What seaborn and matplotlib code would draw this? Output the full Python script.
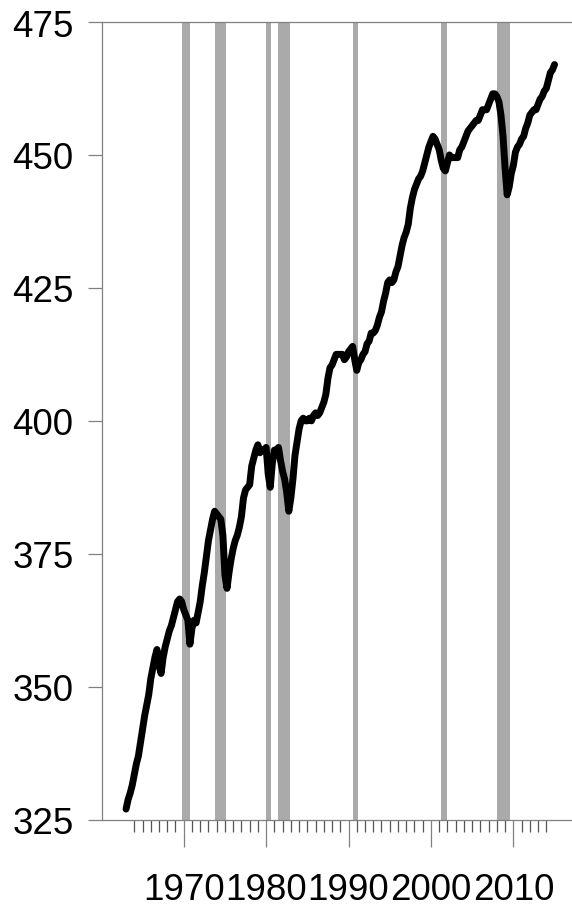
import numpy as np
import pandas as pd
import matplotlib
matplotlib.use("Agg")
import matplotlib.pyplot as plt
import seaborn as sns

# Quarterly index level (log scale x100), 1963Q1 onward
first_year = 1963
index_values = [
    327.0, 328.8, 330.0, 331.5,   # 1963
    333.5, 335.5, 337.0, 339.5,   # 1964
    342.0, 344.5, 346.5, 348.5,   # 1965
    351.5, 353.5, 355.5, 357.0,   # 1966
    354.0, 352.5, 355.5, 357.5,   # 1967
    359.0, 360.5, 361.5, 363.0,   # 1968
    364.5, 366.0, 366.5, 366.0,   # 1969
    364.5, 363.5, 362.5, 358.0,   # 1970
    361.0, 362.5, 362.0, 364.0,   # 1971
    366.0, 369.0, 371.5, 374.5,   # 1972
    377.5, 379.5, 381.5, 383.0,   # 1973
    382.5, 382.0, 381.5, 378.5,   # 1974
    371.0, 368.5, 371.5, 374.0,   # 1975
    376.0, 377.5, 378.5, 380.0,   # 1976
    382.0, 385.5, 387.0, 387.5,   # 1977
    388.0, 391.5, 393.0, 394.5,   # 1978
    395.5, 394.0, 394.5, 394.5,   # 1979
    395.0, 390.0, 387.5, 392.0,   # 1980
    394.5, 394.5, 395.0, 392.5,   # 1981
    390.5, 389.0, 386.5, 383.0,   # 1982
    385.5, 389.0, 393.5, 396.0,   # 1983
    398.5, 400.0, 400.5, 400.0,   # 1984
    400.0, 400.5, 400.0, 401.0,   # 1985
    401.5, 401.0, 401.5, 402.5,   # 1986
    403.5, 405.0, 408.0, 410.0,   # 1987
    410.5, 411.5, 412.5, 412.5,   # 1988
    412.5, 412.5, 411.5, 412.0,   # 1989
    413.0, 413.5, 414.0, 411.5,   # 1990
    409.5, 411.0, 411.5, 412.5,   # 1991
    413.0, 414.5, 415.0, 416.5,   # 1992
    416.5, 417.0, 418.0, 419.5,   # 1993
    420.5, 422.5, 424.0, 426.0,   # 1994
    426.5, 426.0, 426.5, 428.0,   # 1995
    429.0, 431.0, 433.0, 434.5,   # 1996
    435.5, 437.0, 440.0, 442.0,   # 1997
    443.5, 444.5, 445.5, 446.0,   # 1998
    447.0, 448.5, 450.0, 451.5,   # 1999
    452.5, 453.5, 453.0, 452.0,   # 2000
    451.0, 449.0, 447.5, 447.0,   # 2001
    448.5, 450.0, 449.5, 449.5,   # 2002
    449.5, 449.5, 451.0, 451.5,   # 2003
    452.5, 453.5, 454.5, 455.0,   # 2004
    455.5, 456.0, 456.5, 456.5,   # 2005
    457.5, 458.5, 458.5, 458.5,   # 2006
    459.5, 460.5, 461.5, 461.5,   # 2007
    461.0, 460.0, 457.5, 453.5,   # 2008
    447.5, 442.5, 444.0, 446.5,   # 2009
    448.0, 450.5, 451.5, 452.0,   # 2010
    453.0, 453.5, 455.0, 456.0,   # 2011
    457.5, 458.0, 458.5, 458.5,   # 2012
    459.5, 460.5, 461.0, 462.0,   # 2013
    462.5, 464.0, 465.5, 466.0,   # 2014
    467.0,                        # 2015
]

# Recession periods (decimal years)
recession_start = [1969.83, 1973.80, 1980.00, 1981.50, 1990.50, 2001.20, 2008.00]
recession_end = [1970.80, 1975.17, 1980.56, 1982.90, 1991.20, 2001.95, 2009.60]

y_ticks = [325, 350, 375, 400, 425, 450, 475]
x_major = [1970, 1980, 1990, 2000, 2010]
x_minor = list(range(1964, 2015))

quarters = pd.period_range(f"{first_year}Q1", periods=len(index_values), freq="Q")
df = pd.DataFrame({
    "date": quarters.year + (quarters.quarter - 1) / 4.0,
    "value": index_values,
})

sns.set_theme(style="white")
plt.rcParams["font.family"] = ["Liberation Sans", "DejaVu Sans"]

fig = plt.figure(figsize=(5.72, 9.12), dpi=100)
ax = fig.add_axes([102 / 572, 1 - 820.7 / 912, 1 - 102 / 572, (820.7 - 23) / 912])

for s, e in zip(recession_start, recession_end):
    ax.axvspan(s, e, color="#aaaaaa", lw=0, zorder=1)

sns.lineplot(data=df, x="date", y="value", ax=ax, color="black",
             linewidth=5.0, zorder=3, legend=False)

ax.set_xlim(1960.08, 2017.12)
ax.set_ylim(325, 475)
ax.set_xlabel("")
ax.set_ylabel("")

ax.set_yticks(y_ticks)
ax.set_yticklabels([str(v) for v in y_ticks])
ax.set_xticks(x_major)
ax.set_xticklabels([str(v) for v in x_major])
ax.set_xticks([m for m in x_minor if m not in x_major], minor=True)

spine_col = "#808080"
for side in ["left", "top", "bottom"]:
    ax.spines[side].set_visible(True)
    ax.spines[side].set_color(spine_col)
    ax.spines[side].set_linewidth(0.9)
ax.spines["right"].set_visible(False)

ax.tick_params(axis="y", which="major", direction="out", length=10, width=0.9,
               color=spine_col, labelsize=26.5, pad=10.5, left=True,
               labelcolor="black")
ax.tick_params(axis="x", which="major", direction="out", length=19.5, width=0.9,
               color=spine_col, labelsize=26.5, pad=18, bottom=True,
               labelcolor="black")
ax.tick_params(axis="x", which="minor", direction="out", length=8.6, width=0.9,
               color="#555555", bottom=True)
ax.grid(False)

fig.savefig("out.png", dpi=100)
